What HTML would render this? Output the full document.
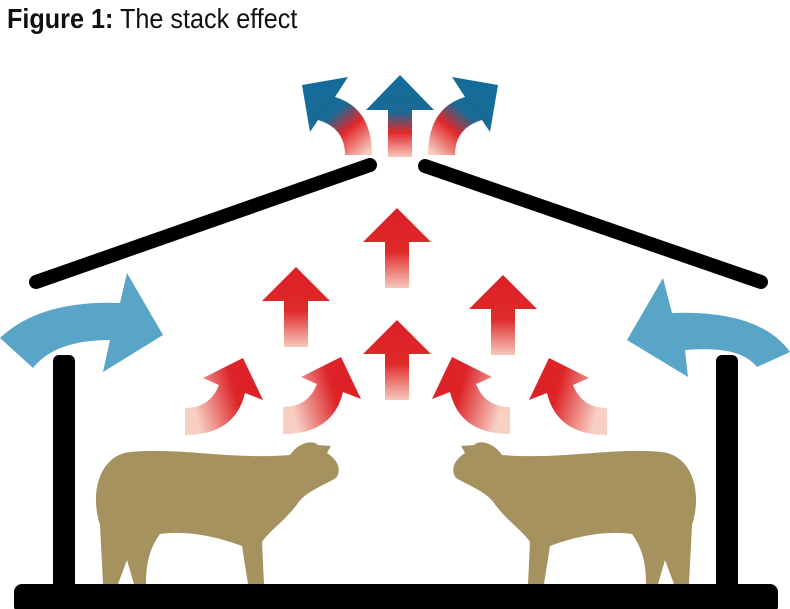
<!DOCTYPE html>
<html><head><meta charset="utf-8"><style>
html,body{margin:0;padding:0;background:#fff;width:790px;height:609px;overflow:hidden}
.t{position:absolute;left:7px;top:3px;font-family:"Liberation Sans Narrow","Liberation Sans",sans-serif;font-size:28px;color:#111;white-space:nowrap;transform:scaleX(0.9);transform-origin:0 0}
</style></head><body>
<div class="t"><b>Figure 1:</b> The stack effect</div>
<svg width="790" height="609" style="position:absolute;left:0;top:0">
<defs>
<linearGradient id="rs" x1="0" y1="0" x2="0" y2="1">
<stop offset="0" stop-color="#dc1f26"/><stop offset="0.55" stop-color="#df2a2a"/><stop offset="1" stop-color="#f6c9bd"/></linearGradient>
<linearGradient id="rcL" x1="1" y1="0" x2="0" y2="0.3">
<stop offset="0" stop-color="#dc1f26"/><stop offset="0.45" stop-color="#dd2428"/><stop offset="1" stop-color="#f7cfc3"/></linearGradient>
<linearGradient id="bs" x1="0" y1="0" x2="0" y2="1">
<stop offset="0" stop-color="#136c99"/><stop offset="0.45" stop-color="#1a6a95"/><stop offset="0.7" stop-color="#e0282a"/><stop offset="1" stop-color="#f6c8bc"/></linearGradient>
<linearGradient id="btL" gradientUnits="userSpaceOnUse" x1="365" y1="155" x2="310" y2="88">
<stop offset="0" stop-color="#f6cdbf"/><stop offset="0.35" stop-color="#e0282a"/><stop offset="0.6" stop-color="#1a6a95"/><stop offset="1" stop-color="#136c99"/></linearGradient>
<linearGradient id="btR" gradientUnits="userSpaceOnUse" x1="435" y1="155" x2="490" y2="88">
<stop offset="0" stop-color="#f6cdbf"/><stop offset="0.35" stop-color="#e0282a"/><stop offset="0.6" stop-color="#1a6a95"/><stop offset="1" stop-color="#136c99"/></linearGradient>
<path id="st" d="M0,0 L34,34 L12,34 L12,80 L-12,80 L-12,34 L-34,34 Z"/>
<path id="cv" d="M0,50 Q25,50 34,27 L18,20 L58,0 L78,42 L60,35 Q50,77 0,77 Z"/>
<path id="cow" d="M103,584 L100,525 C90,495 98,456 130,452 C180,447 230,460 290,455 C298,443 312,439 318,445 L331,446 L327,453 C338,460 342,470 336,478 C320,487 306,492 298,503 C286,520 270,530 262,542 L264,584 L248,584 L242,546 C220,538 190,530 160,534 C150,548 146,562 146,584 L134,584 L127,560 L118,584 Z"/>
</defs>
<line x1="36" y1="282" x2="370" y2="165" stroke="#000" stroke-width="14" stroke-linecap="round"/>
<line x1="425" y1="166" x2="761" y2="282" stroke="#000" stroke-width="14" stroke-linecap="round"/>
<rect x="53" y="355" width="22" height="240" rx="6" fill="#000"/>
<rect x="716" y="355" width="22" height="240" rx="6" fill="#000"/>
<rect x="14" y="584" width="764" height="30" rx="8" fill="#000"/>
<use href="#cow" fill="#a6925f"/>
<use href="#cow" fill="#a6925f" transform="translate(792,0) scale(-1,1)"/>
<path d="M0,338 Q40,300 120,303 L127,273 L163,335 L103,372 L110,340 Q55,340 33,368 Z" fill="#58a5c7"/>
<path d="M790,352 Q760,310 672,313 L663,278 L627,340 L688,377 L685,350 Q740,345 757,367 Z" fill="#58a5c7"/>
<use href="#st" transform="translate(397,208)" fill="url(#rs)"/>
<use href="#st" transform="translate(296,267)" fill="url(#rs)"/>
<use href="#st" transform="translate(503,275)" fill="url(#rs)"/>
<use href="#st" transform="translate(397,320)" fill="url(#rs)"/>
<use href="#cv" transform="translate(185,358)" fill="url(#rcL)"/>
<use href="#cv" transform="translate(283,357)" fill="url(#rcL)"/>
<use href="#cv" transform="translate(607,358) scale(-1,1)" fill="url(#rcL)"/>
<use href="#cv" transform="translate(510,357) scale(-1,1)" fill="url(#rcL)"/>
<path d="M400,75 L434,110 L412,110 L412,157 L388,157 L388,110 L366,110 Z" fill="url(#bs)"/>
<path d="M345,155 Q345,128 318,120 L310,132 L302,85 L348,77 L335,97 Q372,108 372,155 Z" fill="url(#btL)"/>
<path d="M455,155 Q455,128 482,120 L490,132 L498,85 L452,77 L465,97 Q428,108 428,155 Z" fill="url(#btR)"/>
</svg>
</body></html>
